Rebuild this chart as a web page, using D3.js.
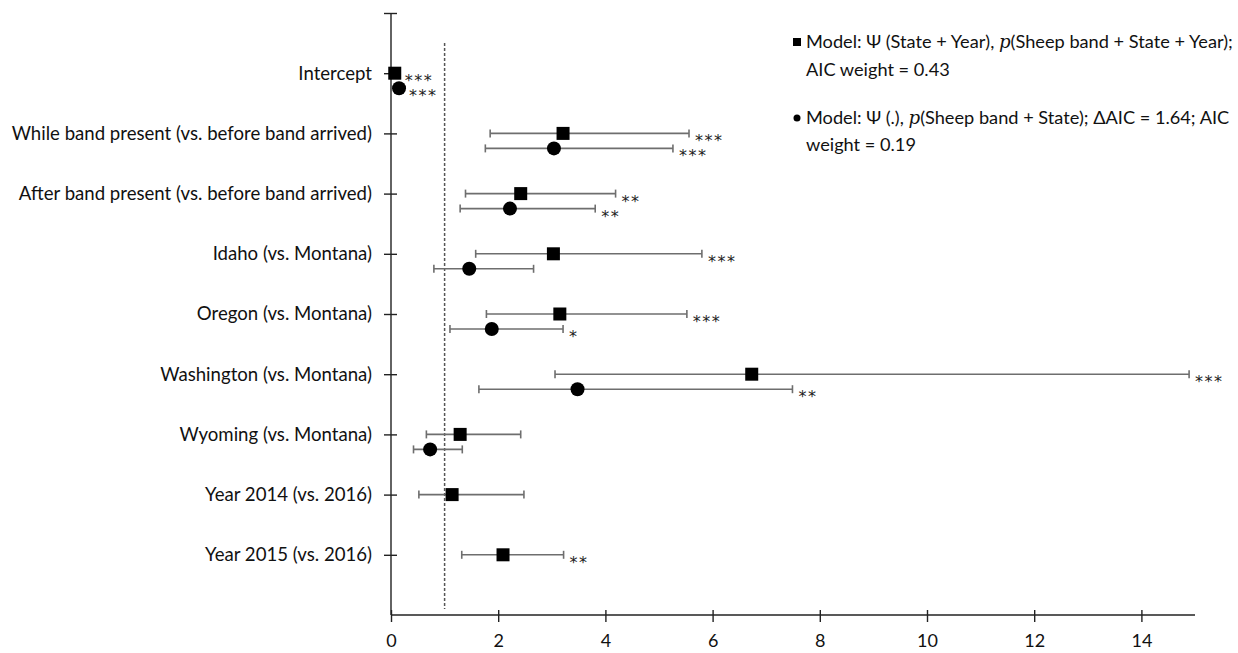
<!DOCTYPE html>
<html>
<head>
<meta charset="utf-8">
<script src="https://cdn.jsdelivr.net/npm/d3@7"></script>
<style>
body { margin: 0; background: #fff; }
svg text { font-family: Lato, "Open Sans", sans-serif; fill: #111; }
.bar { stroke: #6e6e6e; stroke-width: 1.6; }
.axis line, .axis path { stroke: #222; stroke-width: 1.4; }
.stars { font-family: "DejaVu Sans", sans-serif !important; fill: #222 !important; }
</style>
</head>
<body>
<svg class="chartsvg" width="1238" height="653"></svg>
<script>
// coefficient labels, top to bottom
var categories = ["Intercept",
	"While band present (vs. before band arrived)",
	"After band present (vs. before band arrived)",
	"Idaho (vs. Montana)",
	"Oregon (vs. Montana)",
	"Washington (vs. Montana)",
	"Wyoming (vs. Montana)",
	"Year 2014 (vs. 2016)",
	"Year 2015 (vs. 2016)"];

// model 1 (squares): Psi(State + Year), p(Sheep band + State + Year)
var m1Est   = [0.07, 3.21, 2.42, 3.03, 3.15, 6.73, 1.29, 1.14, 2.09];
var m1Low   = [null, 1.85, 1.39, 1.58, 1.78, 3.06, 0.66, 0.52, 1.32];
var m1High  = [null, 5.56, 4.19, 5.80, 5.52, 14.89, 2.42, 2.48, 3.22];
var m1Stars = ["***", "***", "**", "***", "***", "***", "", "", "**"];

// model 2 (circles): Psi(.), p(Sheep band + State)
var m2Est   = [0.15, 3.04, 2.22, 1.46, 1.88, 3.48, 0.73, null, null];
var m2Low   = [null, 1.76, 1.29, 0.80, 1.10, 1.64, 0.42, null, null];
var m2High  = [null, 5.26, 3.81, 2.66, 3.21, 7.49, 1.33, null, null];
var m2Stars = ["***", "***", "**", "", "*", "**", "", "", ""];

var xTicks = [0, 2, 4, 6, 8, 10, 12, 14];
var refLine = 1;

var margin = {top: 13, left: 391, right: 43, bottom: 38};
var svg = d3.select(".chartsvg");
var width = 1238, height = 653;

var x = d3.scaleLinear().domain([0, 15]).range([margin.left, width - margin.right]);
var y = d3.scaleLinear().domain([0, 10]).range([margin.top, height - margin.bottom]);
var offset = 15; // circles sit below squares

// x axis
var xaxis = svg.append("g")
	.attr("class", "axis")
	.attr("transform", "translate(0," + y(10) + ")")
	.call(d3.axisBottom(x).tickValues(xTicks).tickSize(7).tickSizeOuter(0));
xaxis.selectAll(".tick line").attr("y1", -5);
xaxis.selectAll(".tick text").attr("dy", "1.2em").style("font-size", "18px");
xaxis.select(".domain").attr("d", "M" + x(0) + ",0H" + x(15));

// y axis
var yaxis = svg.append("g")
	.attr("class", "axis")
	.attr("transform", "translate(" + x(0) + ",0)")
	.call(d3.axisLeft(y).tickValues(d3.range(0, 10)).tickSize(7).tickSizeOuter(0)
		.tickFormat(function(d) { return d == 0 ? "" : categories[d - 1]; }));
yaxis.selectAll(".tick line").attr("x1", 6).attr("x2", -7);
yaxis.selectAll(".tick text").attr("x", -19).style("font-size", "18.6px");
yaxis.select(".domain").attr("d", "M0," + y(0) + "V" + y(10));

// reference line at 1
svg.append("line")
	.attr("x1", x(refLine)).attr("x2", x(refLine))
	.attr("y1", 43).attr("y2", 609)
	.attr("stroke", "#555").attr("stroke-width", 1.5)
	.attr("stroke-dasharray", "3,2");

function drawSeries(est, low, high, stars, dy, shape)
{
	var g = svg.append("g");
	categories.forEach(function(c, i) {
		if (est[i] == null) return;
		var cy = y(i + 1) + dy;
		if (low[i] != null) {
			g.append("line").attr("class", "bar")
				.attr("x1", x(low[i])).attr("x2", x(high[i]))
				.attr("y1", cy).attr("y2", cy);
			[low[i], high[i]].forEach(function(v) {
				g.append("line").attr("class", "bar")
					.attr("x1", x(v)).attr("x2", x(v))
					.attr("y1", cy - 4).attr("y2", cy + 4);
			});
		}
		if (shape == "square") {
			g.append("rect")
				.attr("x", x(est[i]) - 6.5).attr("y", cy - 6.5)
				.attr("width", 13).attr("height", 13)
				.attr("fill", "#000");
		} else {
			g.append("circle")
				.attr("cx", x(est[i])).attr("cy", cy).attr("r", 7)
				.attr("fill", "#000");
		}
		if (stars[i] != "") {
			var sx = (high[i] != null ? x(high[i]) : x(est[i]) + 4) + 6;
			g.append("text")
				.attr("class", "stars")
				.attr("x", sx).attr("y", cy + 13)
				.style("font-size", "16px")
				.style("letter-spacing", "1.5px")
				.text(stars[i]);
		}
	});
}

drawSeries(m1Est, m1Low, m1High, m1Stars, 0, "square");
drawSeries(m2Est, m2Low, m2High, m2Stars, offset, "circle");

// legend
var legend = svg.append("g").attr("class", "legendgroup");
legend.append("rect").attr("x", 793).attr("y", 38).attr("width", 8).attr("height", 8).attr("fill", "#000");
legend.append("circle").attr("cx", 797).attr("cy", 118).attr("r", 3.5).attr("fill", "#000");

function legendLine(xx, yy, parts)
{
	var t = legend.append("text").attr("x", xx).attr("y", yy).style("font-size", "18.2px");
	parts.forEach(function(p) {
		var s = t.append("tspan").text(p[0]);
		if (p[1]) s.style("font-family", "'DejaVu Serif', serif").style("font-style", "italic");
	});
}
legendLine(806, 48, [["Model: \u03A8 (State + Year), "], ["p", true], ["(Sheep band + State + Year);"]]);
legendLine(806, 76, [["AIC weight = 0.43"]]);
legendLine(806, 124, [["Model: \u03A8 (.), "], ["p", true], ["(Sheep band + State); \u0394AIC = 1.64; AIC"]]);
legendLine(806, 151, [["weight = 0.19"]]);
</script>
</body>
</html>
